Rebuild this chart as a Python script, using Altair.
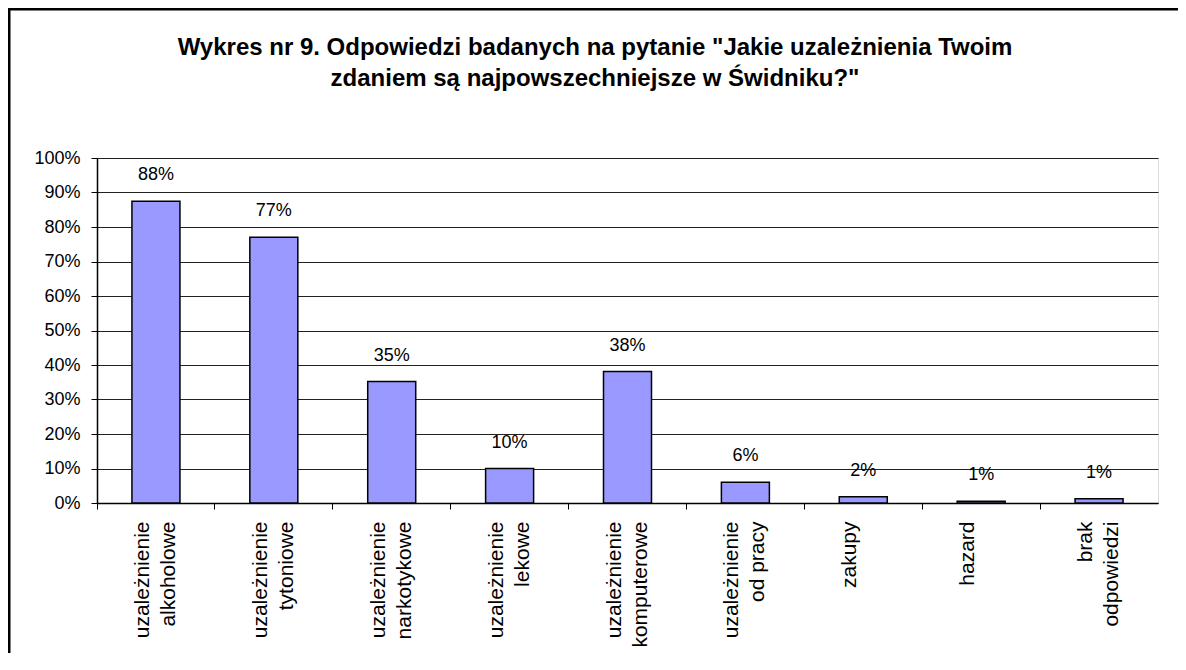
import altair as alt
import pandas as pd

categories = [
    "uzależnienie\nalkoholowe",
    "uzależnienie\ntytoniowe",
    "uzależnienie\nnarkotykowe",
    "uzależnienie\nlekowe",
    "uzależnienie\nkomputerowe",
    "uzależnienie\nod pracy",
    "zakupy",
    "hazard",
    "brak\nodpowiedzi",
]
values = [87.5, 77.0, 35.2, 10.0, 38.1, 6.0, 1.8, 0.5, 1.2]
value_labels = ["88%", "77%", "35%", "10%", "38%", "6%", "2%", "1%", "1%"]
title_line1 = "Wykres nr 9. Odpowiedzi badanych na pytanie \"Jakie uzależnienia Twoim"
title_line2 = "zdaniem są najpowszechniejsze w Świdniku?\""

df = pd.DataFrame({"kat": categories, "val": [v / 100 for v in values], "lab": value_labels})

W, H = 1061, 345
FONT = "Liberation Sans"

x = alt.X(
    "kat:N",
    sort=categories,
    scale=alt.Scale(paddingInner=0, paddingOuter=0),
    axis=alt.Axis(
        title=None,
        labelAngle=-90,
        labelAlign="right",
        labelBaseline="middle",
        labelExpr="split(datum.label, '\\n')",
        labelFontSize=21,
        labelLineHeight=26,
        labelPadding=12,
        labelOffset=-13,
        labelFont=FONT,
        labelColor="black",
        labelOverlap=False,
        bandPosition=0,
        tickSize=6,
        tickColor="black",
        domainColor="black",
        domainWidth=1.5,
        grid=False,
        labelLimit=400,
    ),
)
y = alt.Y(
    "val:Q",
    scale=alt.Scale(domain=[0, 1]),
    axis=alt.Axis(
        title=None,
        format=".0%",
        values=[round(i / 10, 1) for i in range(11)],
        labelFontSize=18,
        labelFont=FONT,
        labelColor="black",
        labelPadding=11,
        labelOverlap=False,
        tickSize=6,
        tickColor="black",
        domainColor="black",
        domainWidth=1.5,
        grid=True,
        gridColor="#222222",
        gridWidth=1,
    ),
)

base = alt.Chart(df).encode(x=x, y=y)

bars = base.mark_bar(width=48, color="#9999FF", stroke="black", strokeWidth=1.5)

texts = base.mark_text(
    dy=-26, baseline="middle", fontSize=18, font=FONT, color="black"
).encode(text="lab:N")

deco = alt.Data(values=[{}])

border = alt.Chart(deco).mark_rect(
    fill=None, stroke="black", strokeWidth=3
).encode(
    x=alt.value(-88), x2=alt.value(W + 300), y=alt.value(-149), y2=alt.value(H + 400)
)

t1 = alt.Chart(deco).mark_text(
    fontSize=24, font=FONT, fontWeight="bold", color="black", baseline="alphabetic", align="center"
).encode(x=alt.value(498), y=alt.value(-103), text=alt.value(title_line1))

t2 = alt.Chart(deco).mark_text(
    fontSize=24, font=FONT, fontWeight="bold", color="black", baseline="alphabetic", align="center"
).encode(x=alt.value(498), y=alt.value(-72), text=alt.value(title_line2))

chart = alt.layer(bars, texts, border, t1, t2).properties(
    width=W,
    height=H,
    autosize=alt.AutoSizeParams(type="none"),
    padding={"left": 89, "top": 150, "right": 20, "bottom": 150},
).configure_view(
    fill="#C0C0C0", stroke="#808080", strokeWidth=2
).configure(background="white")

chart.save("out.html", embed_options={"renderer": "svg", "actions": False})
